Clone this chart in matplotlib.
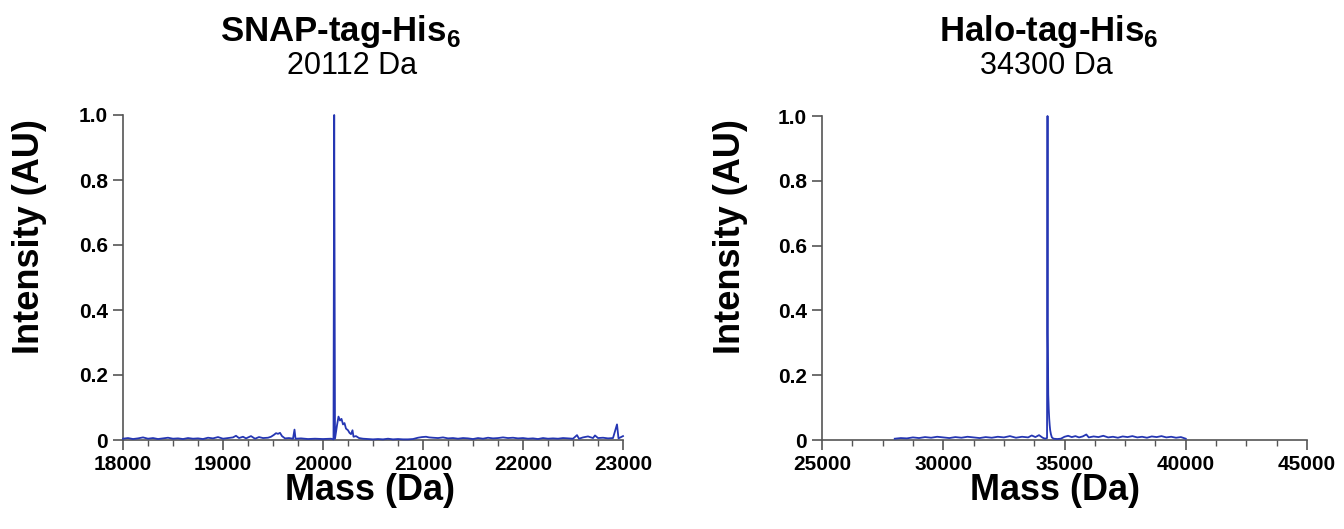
import matplotlib
matplotlib.use("Agg")
from matplotlib import pyplot as plt
from matplotlib.ticker import MultipleLocator, FixedLocator

plt.rcParams['font.family'] = ['Liberation Sans', 'DejaVu Sans']
plt.rcParams['mathtext.fontset'] = 'custom'
plt.rcParams['mathtext.rm'] = 'Liberation Sans'
plt.rcParams['mathtext.bf'] = 'Liberation Sans:bold'

#*********************************************************************************************#
# data
snap_mass = [18000, 18050, 18100, 18150, 18200, 18250, 18300, 18350, 18400, 18450,
             18500, 18550, 18600, 18650, 18700, 18750, 18800, 18850, 18900, 18950,
             19000, 19050, 19100, 19130, 19160, 19200, 19230, 19280, 19320, 19360,
             19400, 19450, 19480, 19510, 19530, 19550, 19570, 19590, 19620, 19660,
             19700, 19715, 19725, 19780, 19850, 19920, 20000, 20080, 20105, 20112,
             20120, 20140, 20155, 20170, 20185, 20200, 20215, 20230, 20250, 20265,
             20280, 20295, 20305, 20330, 20360, 20400, 20450, 20500, 20550, 20600,
             20650, 20700, 20750, 20800, 20850, 20900, 20950, 20990, 21030, 21060,
             21100, 21150, 21200, 21250, 21300, 21350, 21400, 21450, 21500, 21550,
             21600, 21650, 21700, 21750, 21800, 21850, 21900, 21950, 22000, 22050,
             22100, 22150, 22200, 22250, 22300, 22350, 22400, 22450, 22500, 22540,
             22560, 22600, 22650, 22700, 22720, 22750, 22800, 22850, 22900, 22940,
             22955, 23000]
snap_int = [0.004, 0.006, 0.003, 0.005, 0.008, 0.004, 0.006, 0.003, 0.005, 0.007,
            0.004, 0.005, 0.003, 0.006, 0.004, 0.005, 0.003, 0.007, 0.005, 0.009,
            0.004, 0.006, 0.008, 0.013, 0.006, 0.010, 0.005, 0.012, 0.004, 0.009,
            0.006, 0.007, 0.010, 0.016, 0.021, 0.019, 0.022, 0.012, 0.005, 0.006,
            0.004, 0.032, 0.004, 0.005, 0.003, 0.004, 0.003, 0.004, 0.002, 1.000,
            0.004, 0.045, 0.072, 0.060, 0.065, 0.048, 0.052, 0.035, 0.030, 0.022,
            0.018, 0.030, 0.010, 0.012, 0.006, 0.004, 0.003, 0.002, 0.003, 0.002,
            0.004, 0.002, 0.003, 0.002, 0.002, 0.003, 0.007, 0.009, 0.010, 0.008,
            0.007, 0.006, 0.008, 0.005, 0.006, 0.004, 0.006, 0.005, 0.003, 0.006,
            0.004, 0.007, 0.005, 0.006, 0.008, 0.006, 0.007, 0.005, 0.006, 0.004,
            0.005, 0.003, 0.006, 0.004, 0.005, 0.004, 0.006, 0.005, 0.004, 0.015,
            0.004, 0.008, 0.011, 0.006, 0.014, 0.006, 0.007, 0.005, 0.006, 0.048,
            0.005, 0.012]

halo_mass = [28000, 28250, 28500, 28750, 29000, 29250, 29500, 29750, 30000, 30250,
             30500, 30750, 31000, 31250, 31500, 31750, 32000, 32250, 32500, 32750,
             33000, 33250, 33500, 33650, 33800, 33950, 34100, 34200, 34280, 34300,
             34310, 34330, 34350, 34370, 34390, 34410, 34440, 34480, 34550, 34700,
             34850, 35000, 35150, 35300, 35450, 35600, 35750, 35900, 36000, 36200,
             36400, 36600, 36800, 37000, 37200, 37400, 37600, 37800, 38000, 38200,
             38400, 38600, 38800, 39000, 39200, 39400, 39600, 39800, 40000]
halo_int = [0.004, 0.006, 0.005, 0.008, 0.006, 0.009, 0.007, 0.010, 0.008, 0.006,
            0.009, 0.007, 0.010, 0.008, 0.006, 0.009, 0.007, 0.010, 0.008, 0.012,
            0.007, 0.010, 0.008, 0.014, 0.009, 0.015, 0.007, 0.004, 0.006, 1.000,
            0.330, 0.140, 0.095, 0.065, 0.045, 0.030, 0.018, 0.008, 0.004, 0.003,
            0.004, 0.010, 0.013, 0.009, 0.012, 0.008, 0.011, 0.017, 0.008, 0.011,
            0.009, 0.013, 0.008, 0.010, 0.007, 0.011, 0.009, 0.012, 0.008, 0.010,
            0.007, 0.011, 0.009, 0.012, 0.008, 0.010, 0.007, 0.009, 0.004]

titles = ["SNAP-tag-His$_\\mathbf{6}$", "Halo-tag-His$_\\mathbf{6}$"]
subtitles = ["20112 Da", "34300 Da"]
y_ticks = [0, 0.2, 0.4, 0.6, 0.8, 1.0]
y_tick_labels = ["0", "0.2", "0.4", "0.6", "0.8", "1.0"]

#*********************************************************************************************#

W, H = 1344, 529
fig = plt.figure(figsize=(W/100, H/100), dpi=100)

line_col = '#2536b3'
spine_col = '#555555'

def make_panel(rect, x, y, xlim, major, minor):
    ax = fig.add_axes(rect)
    ax.plot(x, y, color=line_col, lw=1.3, clip_on=False, zorder=3)
    ax.set_xlim(xlim)
    ax.set_ylim(0, 1.0)
    ax.xaxis.set_major_locator(MultipleLocator(major))
    ax.xaxis.set_minor_locator(MultipleLocator(minor))
    ax.yaxis.set_major_locator(FixedLocator(y_ticks))
    ax.set_yticklabels(y_tick_labels)
    for s in ['top', 'right']:
        ax.spines[s].set_visible(False)
    for s in ['left', 'bottom']:
        ax.spines[s].set_color(spine_col)
        ax.spines[s].set_linewidth(1.2)
    ax.tick_params(which='major', direction='out', length=7, width=1.2, color=spine_col,
                   labelsize=15, pad=4)
    ax.tick_params(which='minor', direction='out', length=4, width=1.0, color=spine_col)
    for lab in ax.get_xticklabels() + ax.get_yticklabels():
        lab.set_fontweight('bold')
    return ax

ax1 = make_panel([123/W, 1-440/H, 500/W, 325/H], snap_mass, snap_int, (18000, 23000), 1000, 250)
ax2 = make_panel([822/W, 1-440/H, 485/W, 324/H], halo_mass, halo_int, (25000, 45000), 5000, 1250)

# titles, axis labels
for cx, cx2, t, st in [(340, 352, titles[0], subtitles[0]), (1049, 1046, titles[1], subtitles[1])]:
    fig.text(cx/W, 1-41/H, t, ha='center', va='baseline', fontsize=25, fontweight='bold')
    fig.text(cx2/W, 1-74/H, st, ha='center', va='baseline', fontsize=22)

for ylx in [30, 730]:
    fig.text(ylx/W, 1-237/H, "Intensity (AU)", rotation=90, ha='center', va='center',
             fontsize=26, fontweight='bold')
for mx in [370, 1055]:
    fig.text(mx/W, 1-490/H, "Mass (Da)", ha='center', va='center', fontsize=26, fontweight='bold')

fig.savefig("out.png", dpi=100)
